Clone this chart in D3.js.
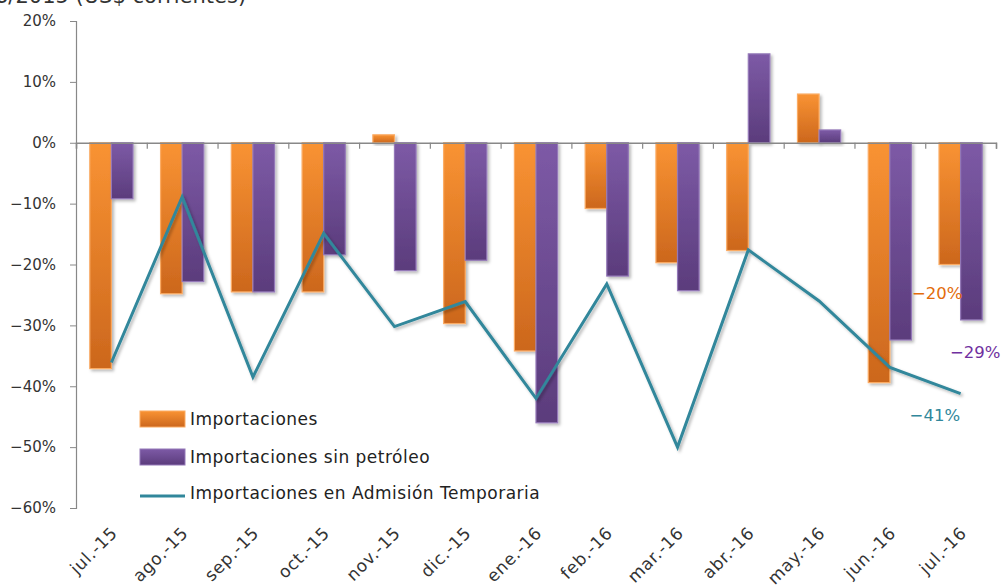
<!DOCTYPE html>
<html>
<head>
<meta charset="utf-8">
<script src="https://cdn.jsdelivr.net/npm/d3@7"></script>
<style>
  body { margin: 0; background: #fff; }
  svg { display: block; font-family: "DejaVu Sans", Verdana, sans-serif; }
</style>
</head>
<body>
<script>
const width = 1002;
const height = 587;

// data (percent change, US$ corrientes)
const months = ["jul.-15", "ago.-15", "sep.-15", "oct.-15", "nov.-15", "dic.-15", "ene.-16",
                "feb.-16", "mar.-16", "abr.-16", "may.-16", "jun.-16", "jul.-16"];
const importaciones = [-37.1, -24.8, -24.5, -24.5, 1.3, -29.7, -34.2, -10.8, -19.7, -17.7, 8.0, -39.4, -20.0];
const sinPetroleo = [-9.2, -22.8, -24.5, -18.4, -21.0, -19.3, -46.0, -21.9, -24.3, 14.6, 2.1, -32.4, -29.1];
const admisionTemporaria = [-36.1, -8.9, -38.5, -14.9, -30.2, -26.1, -42.0, -23.2, -50.0, -17.6, -26.0, -36.9, -41.2];
const yTicks = [20, 10, 0, -10, -20, -30, -40, -50, -60];
const seriesNames = ["Importaciones", "Importaciones sin petróleo", "Importaciones en Admisión Temporaria"];
const titleText = "6/2015 (US$ corrientes)";

const orange = { top: "#f99333", bottom: "#cc671d", edge: "#fbab63" };
const purple = { top: "#7d5aa6", bottom: "#5b3c7c", edge: "#9478b8" };
const teal = "#31879b";

const fmt = v => (v < 0 ? "\u2212" : "") + Math.abs(v) + "%";

const svg = d3.select("body").append("svg")
  .attr("width", width)
  .attr("height", height);

const defs = svg.append("defs");
function grad(id, c) {
  const g = defs.append("linearGradient").attr("id", id)
    .attr("x1", 0).attr("x2", 0).attr("y1", 0).attr("y2", 1);
  g.append("stop").attr("offset", "0%").attr("stop-color", c.top);
  g.append("stop").attr("offset", "100%").attr("stop-color", c.bottom);
}
grad("gOrange", orange);
grad("gPurple", purple);
defs.append("filter").attr("id", "shadow")
  .attr("x", "-20%").attr("y", "-20%").attr("width", "150%").attr("height", "150%")
  .append("feDropShadow")
  .attr("dx", 2).attr("dy", 2).attr("stdDeviation", 1.5)
  .attr("flood-color", "#000").attr("flood-opacity", 0.28);

// scales
const y = d3.scaleLinear().domain([-60, 20]).range([508, 21]);
const x0 = d3.scaleBand().domain(months).range([76, 996]).paddingInner(0.39).paddingOuter(0.195);
const x1 = d3.scaleBand().domain(["imp", "sin"]).range([0, x0.bandwidth()]);
const xIdx = d3.scaleLinear().domain([0, months.length]).range([76, 996]);

// title (cut off by the top edge)
svg.append("text")
  .attr("x", -5).attr("y", 3)
  .attr("font-size", 21).attr("fill", "#333")
  .text(titleText);

// y axis
const yAxis = svg.append("g")
  .attr("transform", "translate(76,0)")
  .call(d3.axisLeft(y).tickValues(yTicks).tickSize(6).tickPadding(14).tickFormat(fmt));
yAxis.select(".domain").attr("stroke", "#888").attr("stroke-width", 1.2);
yAxis.selectAll(".tick line").attr("stroke", "#888");
yAxis.selectAll(".tick text").attr("font-size", 15).attr("fill", "#333")
  .attr("font-family", "DejaVu Sans, Verdana, sans-serif");

// bars
const barData = months.map((m, i) => ({ m, imp: importaciones[i], sin: sinPetroleo[i] }));
const groups = svg.append("g").selectAll("g")
  .data(barData).join("g")
  .attr("transform", d => `translate(${x0(d.m)},0)`);

groups.selectAll("rect")
  .data(d => [{ k: "imp", v: d.imp }, { k: "sin", v: d.sin }])
  .join("rect")
  .attr("x", d => x1(d.k))
  .attr("y", d => y(Math.max(0, d.v)))
  .attr("width", x1.bandwidth())
  .attr("height", d => Math.abs(y(d.v) - y(0)))
  .attr("fill", d => d.k === "imp" ? "url(#gOrange)" : "url(#gPurple)")
  .attr("stroke", d => d.k === "imp" ? orange.edge : purple.edge)
  .attr("stroke-width", 1.2)
  .attr("filter", "url(#shadow)");

// x axis (zero line with ticks at band edges)
const xAxis = svg.append("g")
  .attr("transform", `translate(0,${y(0)})`)
  .call(d3.axisBottom(xIdx).tickValues(d3.range(months.length + 1)).tickSize(6).tickFormat(""));
xAxis.select(".domain").attr("stroke", "#888").attr("stroke-width", 1.5);
xAxis.selectAll(".tick line").attr("stroke", "#888").attr("stroke-width", 1.2);

// category labels
svg.append("g").selectAll("text")
  .data(months).join("text")
  .attr("transform", m => `translate(${x0(m) + x0.bandwidth() / 2 + 7},534) rotate(-45)`)
  .attr("text-anchor", "end")
  .attr("font-size", 17).attr("letter-spacing", 0.7).attr("fill", "#333")
  .text(m => m);

// line
const cx = i => x0(months[i]) + x0.bandwidth() / 2;
const line = d3.line().x((d, i) => cx(i)).y(d => y(d));
svg.append("path")
  .datum(admisionTemporaria)
  .attr("d", line)
  .attr("fill", "none")
  .attr("stroke", teal)
  .attr("stroke-width", 3)
  .attr("stroke-linejoin", "miter")
  .attr("filter", "url(#shadow)");

// end labels
const last = months.length - 1;
const lm = months[last];
svg.append("text")
  .attr("x", x0(lm) + x1("imp") - 27).attr("y", y(importaciones[last]) + 34)
  .attr("font-size", 16.5).attr("fill", "#e36c0a")
  .text(fmt(Math.round(importaciones[last])));
svg.append("text")
  .attr("x", x0(lm) + x1("imp") + 11).attr("y", y(sinPetroleo[last]) + 38)
  .attr("font-size", 16.5).attr("fill", "#7030a0")
  .text(fmt(Math.round(sinPetroleo[last])));
svg.append("text")
  .attr("x", cx(last) - 51).attr("y", y(admisionTemporaria[last]) + 27)
  .attr("font-size", 16.5).attr("fill", teal)
  .text(fmt(Math.round(admisionTemporaria[last])));

// legend
const legend = svg.append("g").attr("transform", "translate(140,0)");
const legY = [419, 457, 493];
legend.append("rect").attr("x", 0).attr("y", legY[0] - 8).attr("width", 45).attr("height", 16)
  .attr("fill", "url(#gOrange)").attr("stroke", orange.edge);
legend.append("rect").attr("x", 0).attr("y", legY[1] - 8).attr("width", 45).attr("height", 16)
  .attr("fill", "url(#gPurple)").attr("stroke", purple.edge);
legend.append("line").attr("x1", 0).attr("x2", 45).attr("y1", legY[2] + 3).attr("y2", legY[2] + 3)
  .attr("stroke", teal).attr("stroke-width", 3);
legend.selectAll("text.leg")
  .data(seriesNames).join("text")
  .attr("class", "leg")
  .attr("x", 50).attr("y", (d, i) => legY[i])
  .attr("dy", "0.35em")
  .attr("font-size", 17).attr("letter-spacing", 0.5).attr("fill", "#222")
  .text(d => d);
</script>
</body>
</html>
